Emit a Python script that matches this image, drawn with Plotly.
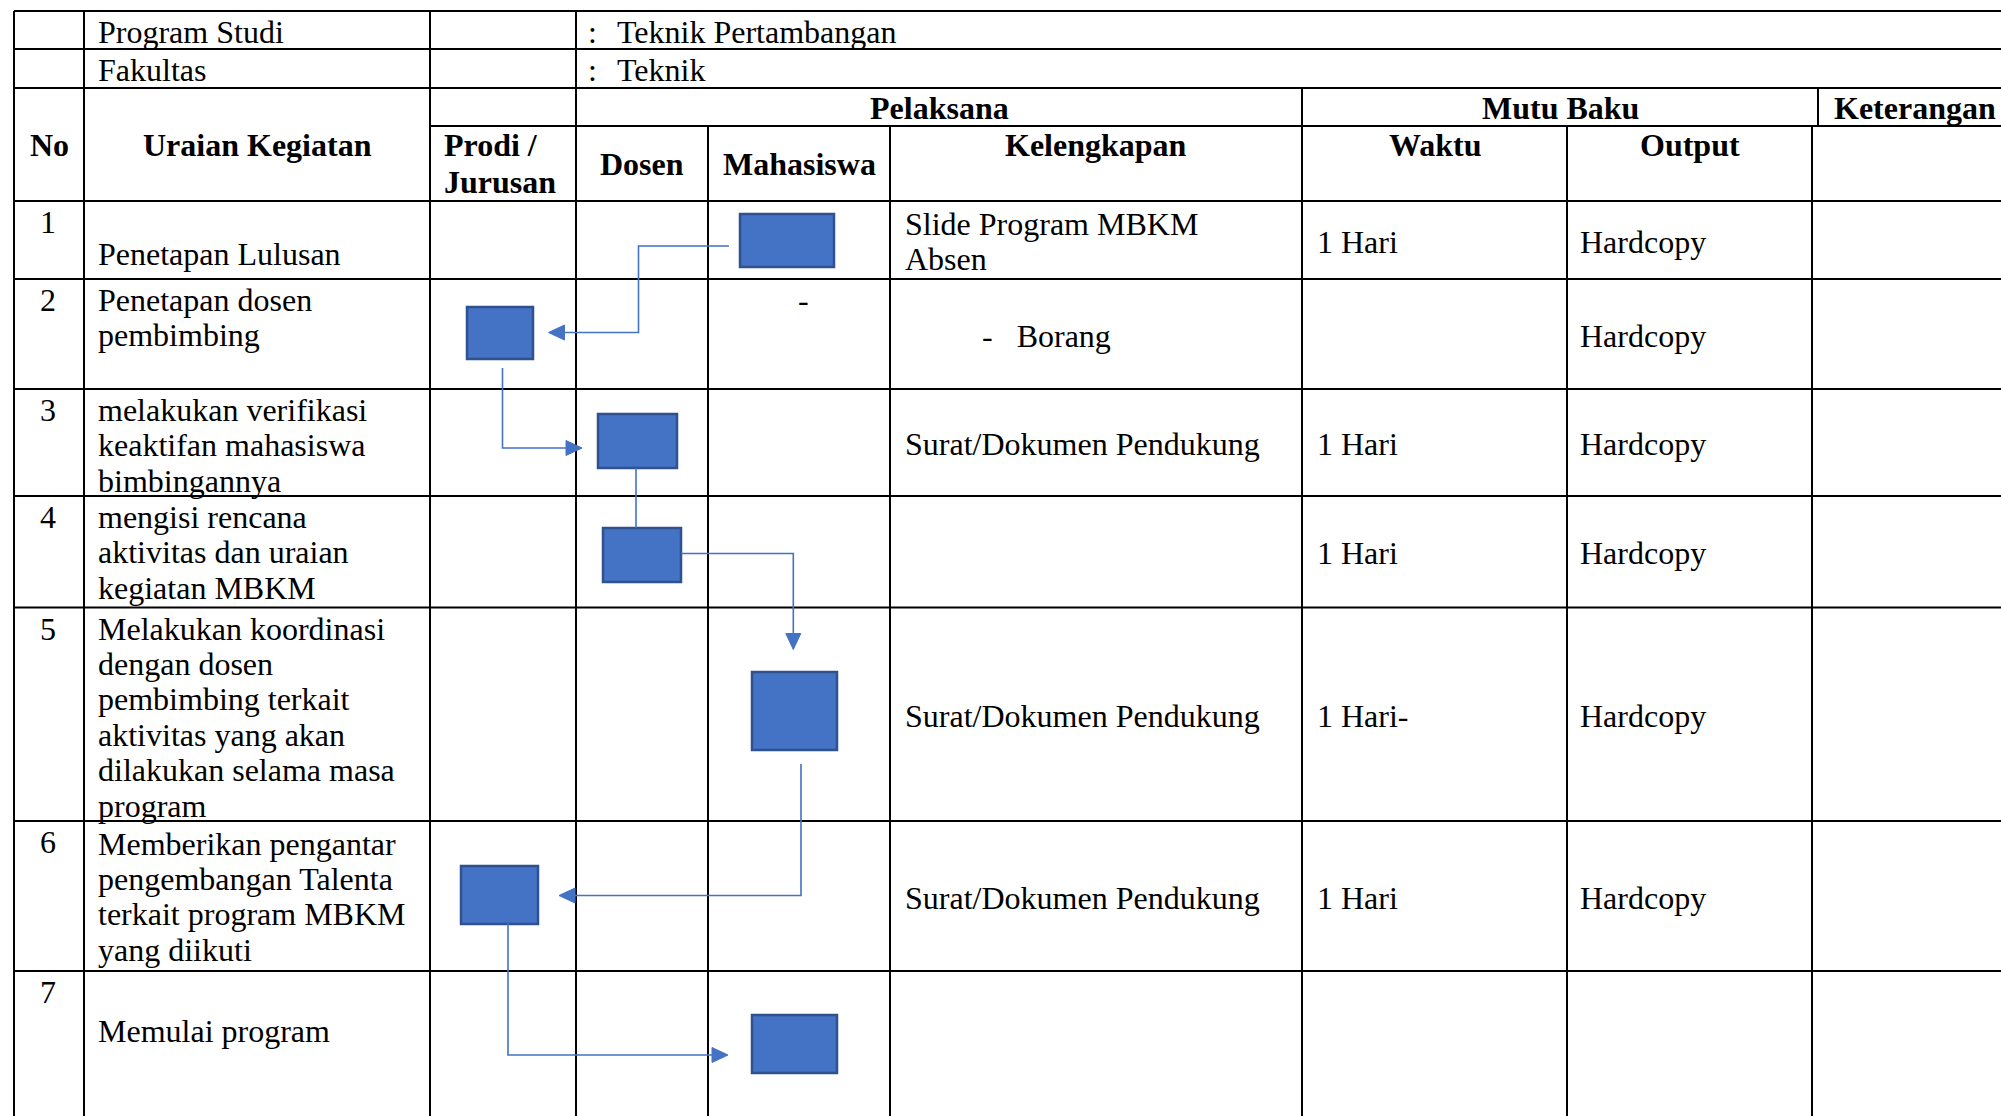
import plotly.graph_objects as go

# ---------------- content ----------------
info_labels = ["Program Studi", "Fakultas"]
info_values = ["Teknik Pertambangan", "Teknik"]

header_top = ["Pelaksana", "Mutu Baku", "Keterangan"]
header_sub = ["No", "Uraian Kegiatan", "Prodi /|Jurusan", "Dosen", "Mahasiswa",
              "Kelengkapan", "Waktu", "Output"]

step_no = ["1", "2", "3", "4", "5", "6", "7"]
step_desc = [
    ["", "Penetapan Lulusan"],
    ["Penetapan dosen", "pembimbing"],
    ["melakukan verifikasi", "keaktifan mahasiswa", "bimbingannya"],
    ["mengisi rencana", "aktivitas dan uraian", "kegiatan MBKM"],
    ["Melakukan koordinasi", "dengan dosen", "pembimbing terkait",
     "aktivitas yang akan", "dilakukan selama masa", "program"],
    ["Memberikan pengantar", "pengembangan Talenta", "terkait program MBKM",
     "yang diikuti"],
    ["", "Memulai program"],
]
mahasiswa_note = ["", "-", "", "", "", "", ""]
kelengkapan = [
    ["Slide Program MBKM", "Absen"],
    ["-\u00a0\u00a0\u00a0Borang"],
    ["Surat/Dokumen Pendukung"],
    [],
    ["Surat/Dokumen Pendukung"],
    ["Surat/Dokumen Pendukung"],
    [],
]
waktu = ["1 Hari", "", "1 Hari", "1 Hari", "1 Hari-", "1 Hari", ""]
output = ["Hardcopy", "Hardcopy", "Hardcopy", "Hardcopy", "Hardcopy", "Hardcopy", ""]

# actor (column) performing each step
actor = ["Mahasiswa", "Prodi", "Dosen", "Dosen", "Mahasiswa", "Prodi", "Mahasiswa"]

# ---------------- layout geometry (pixels) ----------------
W, H = 2001, 1116
col_x = [14, 84, 430, 576, 708, 890, 1302, 1567, 1812]
ket_top_x = 1818
info_y = [11, 49, 88]
head_y = [88, 126, 201]
row_y = [201, 279, 389, 496, 607.5, 821, 971, H]
desc_dy = [-3, 0, 0, 0, 0, 1.5, 3.5]

# box rectangles per step: x0, x1, y0, y1
box_x = [(740, 834), (467, 533), (598, 677), (603, 681), (752, 837), (461, 538), (752, 837)]
box_y = [(214, 267), (307, 359), (414, 468), (528, 582), (672, 750), (866, 924), (1015, 1073)]

# connector polylines and arrow tips
connectors = [
    [(729, 246), (638.5, 246), (638.5, 332.5), (560, 332.5)],
    [(502.5, 368), (502.5, 448), (570, 448)],
    [(636, 468), (636, 528)],
    [(681, 553.5), (793.3, 553.5), (793.3, 638)],
    [(801, 764), (801, 895.5), (570, 895.5)],
    [(508, 923), (508, 1055), (716, 1055)],
]
arrows = [  # tip x, tip y, direction
    (548.5, 332.5, "left"),
    (582, 448, "right"),
    (793.3, 649.5, "down"),
    (559, 895.5, "left"),
    (728, 1055, "right"),
]

FONT = "Liberation Serif, Times New Roman, serif"
FS = 32
LS = 35.4
BLUE = "#4472C4"
EDGE = "#2F528F"
DX = -1.5  # left-text fine offset

fig = go.Figure()
shapes = []
ann = []


def hline(y, x0, x1, w=2.2):
    shapes.append(dict(type="line", x0=x0, x1=x1, y0=y, y1=y,
                       line=dict(color="black", width=w), layer="below"))


def vline(x, y0, y1, w=2):
    shapes.append(dict(type="line", x0=x, x1=x, y0=y0, y1=y1,
                       line=dict(color="black", width=w), layer="below"))


def text(x, y, s, anchor="left", bold=False):
    if s == "":
        return
    if anchor == "left":
        x = x + DX
    ann.append(dict(x=x, y=y, xref="x", yref="y", text=("<b>%s</b>" % s) if bold else s,
                    showarrow=False, xanchor=anchor, yanchor="middle",
                    font=dict(family=FONT, size=FS, color="black"), borderpad=0))


# table grid
for y in info_y:
    hline(y, col_x[0], W)
hline(head_y[1], col_x[2], W)
for y in row_y[:-1]:
    hline(y, col_x[0], W)
for x in col_x[:4]:
    vline(x, info_y[0], H)
for x in (col_x[4], col_x[5], col_x[7], col_x[8]):
    vline(x, head_y[1], H)
vline(col_x[6], head_y[0], H)
vline(ket_top_x, head_y[0], head_y[1])

# info rows
for i, (lab, val) in enumerate(zip(info_labels, info_values)):
    yc = (info_y[i] + (info_y[i + 1] if i + 1 < len(info_y) else head_y[0])) / 2 + 1.5
    text(col_x[1] + 14, yc, lab)
    text(col_x[3] + 12, yc, ":")
    text(col_x[3] + 41, yc, val)

# headers
yc_top = (head_y[0] + head_y[1]) / 2 + 1
text((col_x[3] + col_x[6]) / 2, yc_top, header_top[0], "center", True)
text((col_x[6] + ket_top_x) / 2, yc_top, header_top[1], "center", True)
text(ket_top_x + 16, yc_top, header_top[2], "left", True)

ytop_sub = 145
text((col_x[0] + col_x[1]) / 2, ytop_sub, header_sub[0], "center", True)
text((col_x[1] + col_x[2]) / 2, ytop_sub, header_sub[1], "center", True)
pj = header_sub[2].split("|")
text(col_x[2] + 14, ytop_sub, pj[0], "left", True)
text(col_x[2] + 14, ytop_sub + 36.5, pj[1], "left", True)
ymid_sub = (head_y[1] + head_y[2]) / 2
text((col_x[3] + col_x[4]) / 2, ymid_sub, header_sub[3], "center", True)
text((col_x[4] + col_x[5]) / 2, ymid_sub, header_sub[4], "center", True)
text((col_x[5] + col_x[6]) / 2, ytop_sub, header_sub[5], "center", True)
text((col_x[6] + col_x[7]) / 2, ytop_sub, header_sub[6], "center", True)
text((col_x[7] + col_x[8]) / 2, ytop_sub, header_sub[7], "center", True)

# body rows
for i in range(len(step_no)):
    top, bot = row_y[i], row_y[i + 1]
    mid = (top + bot) / 2 + 1.5
    y0 = top + 21
    text((col_x[0] + col_x[1]) / 2 - 1, y0, step_no[i], "center")
    for k, line in enumerate(step_desc[i]):
        text(col_x[1] + 14, y0 + desc_dy[i] + k * LS, line)
    text((col_x[4] + col_x[5]) / 2 + 4, y0, mahasiswa_note[i], "center")
    kl = kelengkapan[i]
    n = len(kl)
    for k, line in enumerate(kl):
        xk = col_x[5] + 15 if not line.startswith("-") else col_x[5] + 92
        text(xk, mid + (k - (n - 1) / 2) * LS, line)
    text(col_x[6] + 15, mid, waktu[i])
    text(col_x[7] + 13, mid, output[i])

# flow boxes
for (bx0, bx1), (by0, by1) in zip(box_x, box_y):
    shapes.append(dict(type="rect", x0=bx0, x1=bx1, y0=by0, y1=by1,
                       fillcolor=BLUE, line=dict(color=EDGE, width=2.5), layer="above"))

# connectors
for pts in connectors:
    d = "M %s,%s " % pts[0] + " ".join("L %s,%s" % p for p in pts[1:])
    shapes.append(dict(type="path", path=d, line=dict(color=BLUE, width=1.6), layer="above"))

AL, AW = 16, 7.5
for tx, ty, dr in arrows:
    if dr == "left":
        pts = [(tx, ty), (tx + AL, ty - AW), (tx + AL, ty + AW)]
    elif dr == "right":
        pts = [(tx, ty), (tx - AL, ty - AW), (tx - AL, ty + AW)]
    else:
        pts = [(tx, ty), (tx - AW, ty - AL), (tx + AW, ty - AL)]
    d = "M %s,%s L %s,%s L %s,%s Z" % (pts[0] + pts[1] + pts[2])
    shapes.append(dict(type="path", path=d, fillcolor=BLUE,
                       line=dict(color=BLUE, width=1), layer="above"))

fig.update_layout(
    width=W, height=H, margin=dict(l=0, r=0, t=0, b=0),
    paper_bgcolor="white", plot_bgcolor="white",
    xaxis=dict(range=[0, W], visible=False, fixedrange=True),
    yaxis=dict(range=[H, 0], visible=False, fixedrange=True),
    shapes=shapes, annotations=ann, showlegend=False,
)

fig.write_html("out.html", config={"displayModeBar": False},
               post_script="document.body.style.margin='0px';document.body.style.overflow='hidden';")
